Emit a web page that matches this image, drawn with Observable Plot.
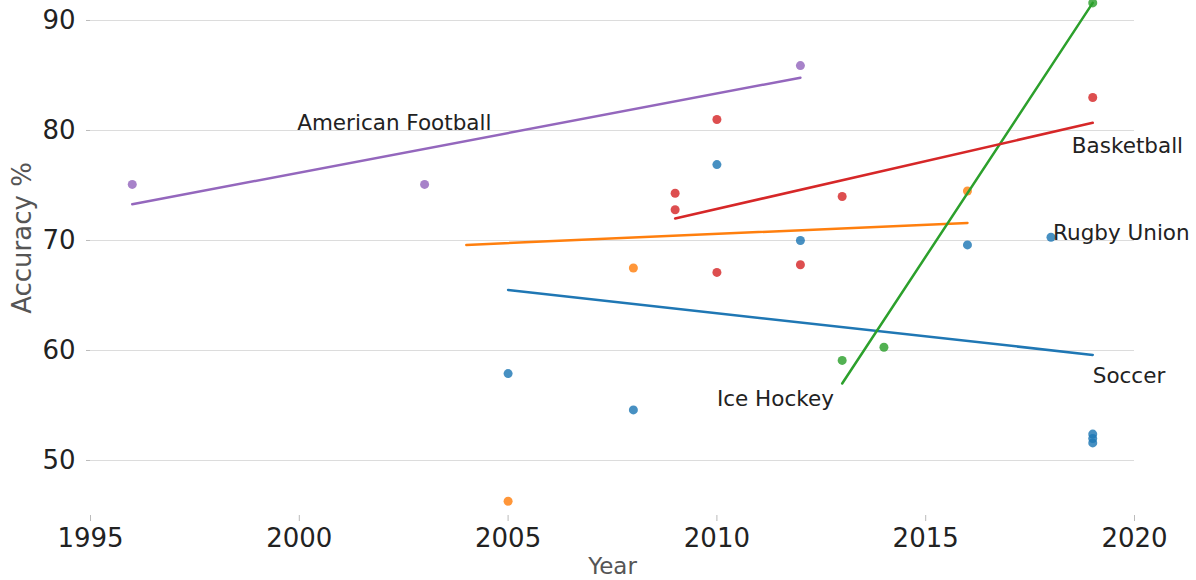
<!DOCTYPE html>
<html>
<head>
<meta charset="utf-8">
<script src="https://cdn.jsdelivr.net/npm/d3@7"></script>
<script src="https://cdn.jsdelivr.net/npm/@observablehq/plot@0.6"></script>
<style>
  html, body { margin: 0; padding: 0; background: #fff; }
  #chart { width: 1196px; height: 580px; overflow: hidden; }
</style>
</head>
<body>
<div id="chart"></div>
<script>
// ---- Data ----
const sports = ["Soccer", "Rugby Union", "Ice Hockey", "Basketball", "American Football"];
const sportColors = ["#1f77b4", "#ff7f0e", "#2ca02c", "#d62728", "#9467bd"];

// scatter points
const pointSport = [
  "Soccer", "Soccer", "Soccer", "Soccer", "Soccer", "Soccer", "Soccer", "Soccer", "Soccer",
  "Rugby Union", "Rugby Union", "Rugby Union",
  "Ice Hockey", "Ice Hockey", "Ice Hockey",
  "Basketball", "Basketball", "Basketball", "Basketball", "Basketball", "Basketball", "Basketball",
  "American Football", "American Football", "American Football"
];
const pointYear = [
  2005, 2008, 2010, 2012, 2016, 2018, 2019, 2019, 2019,
  2005, 2008, 2016,
  2013, 2014, 2019,
  2009, 2009, 2010, 2010, 2012, 2013, 2019,
  1996, 2003, 2012
];
const pointAccuracy = [
  57.9, 54.6, 76.9, 70.0, 69.6, 70.3, 52.4, 52.0, 51.6,
  46.3, 67.5, 74.5,
  59.1, 60.3, 91.6,
  74.3, 72.8, 81.0, 67.1, 67.8, 74.0, 83.0,
  75.1, 75.1, 85.9
];

// trend line end points per sport
const trendSport = ["Soccer", "Rugby Union", "Ice Hockey", "Basketball", "American Football"];
const trendStartYear = [2005, 2004, 2013, 2009, 1996];
const trendStartAcc = [65.5, 69.6, 57.0, 72.0, 73.3];
const trendEndYear = [2019, 2016, 2019, 2019, 2012];
const trendEndAcc = [59.6, 71.6, 91.6, 80.7, 84.8];

// annotation labels
const labelText = ["American Football", "Basketball", "Rugby Union", "Soccer", "Ice Hockey"];
const labelYear = [1999.95, 2018.5, 2018.05, 2019.0, 2010.0];
const labelAcc = [80.7, 78.6, 70.7, 57.7, 55.6];

// axes
const xTicks = [1995, 2000, 2005, 2010, 2015, 2020];
const yTicks = [50, 60, 70, 80, 90];
const xLabel = "Year";
const yLabel = "Accuracy %";

// ---- Build tables ----
const points = pointYear.map((d, i) => ({sport: pointSport[i], year: d, acc: pointAccuracy[i]}));
const trends = [];
trendSport.forEach((s, i) => {
  trends.push({sport: s, year: trendStartYear[i], acc: trendStartAcc[i]});
  trends.push({sport: s, year: trendEndYear[i], acc: trendEndAcc[i]});
});
const labels = labelText.map((t, i) => ({text: t, year: labelYear[i], acc: labelAcc[i]}));

const chart = Plot.plot({
  width: 1196,
  height: 580,
  marginLeft: 90,
  marginRight: 62,
  marginTop: 0,
  marginBottom: 65,
  style: {fontFamily: "DejaVu Sans", background: "#fff"},
  x: {domain: [1995, 2020]},
  y: {domain: [45, 91.818]},
  color: {domain: sports, range: sportColors},
  marks: [
    Plot.gridY(yTicks, {stroke: "#dcdcdc", strokeOpacity: 1, strokeWidth: 1}),
    Plot.axisY(yTicks, {tickSize: 4, tickPadding: 11, fontSize: 26, stroke: "#bbb", fill: "#222", label: null}),
    Plot.axisX(xTicks, {tickSize: 6, tickPadding: 7, fontSize: 26, stroke: "#bbb", fill: "#222", tickFormat: d => String(d), label: null}),
    Plot.dot(points, {x: "year", y: "acc", fill: "sport", r: 4.5, fillOpacity: 0.82, stroke: "none"}),
    Plot.line(trends, {x: "year", y: "acc", z: "sport", stroke: "sport", strokeWidth: 2.5}),
    Plot.text(labels, {x: "year", y: "acc", text: "text", textAnchor: "start", lineAnchor: "middle", fontSize: 21.5, fill: "#222"}),
    Plot.text([xLabel], {frameAnchor: "bottom", lineAnchor: "middle", dy: 51, fontSize: 23, fill: "#555"}),
    Plot.text([yLabel], {frameAnchor: "left", lineAnchor: "middle", textAnchor: "middle", rotate: -90, dx: -68, dy: -20, fontSize: 26, fill: "#555"})
  ]
});
document.getElementById("chart").appendChild(chart);
</script>
</body>
</html>
